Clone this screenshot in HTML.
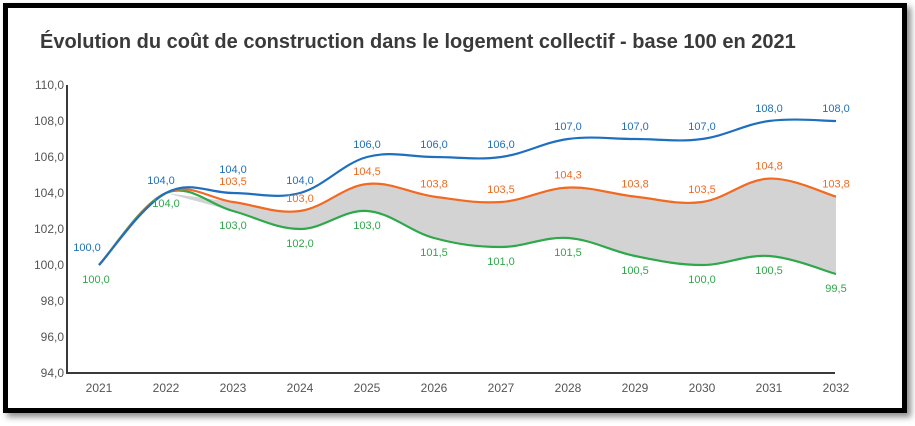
<!DOCTYPE html>
<html><head><meta charset="utf-8"><style>
body{margin:0;width:915px;height:426px;background:#fff;overflow:hidden;font-family:"Liberation Sans",sans-serif}
#frame{position:absolute;left:3px;top:3px;width:894px;height:400px;border:5px solid #000;box-shadow:4px 4px 6px rgba(0,0,0,.45);background:#fff}
</style></head><body>
<div id="frame"></div>
<svg id="c" width="915" height="426" style="position:absolute;left:0;top:0">
<text x="40" y="48" font-size="20" font-weight="bold" fill="#3a3a3a">Évolution du coût de construction dans le logement collectif - base 100 en 2021</text>
</svg>
<script>
const years=["2021","2022","2023","2024","2025","2026","2027","2028","2029","2030","2031","2032"];
const blue=[100,104,104,104,106,106,106,107,107,107,108,108];
const orange=[100,104,103.5,103,104.5,103.8,103.5,104.3,103.8,103.5,104.8,103.8];
const green=[100,104,103,102,103,101.5,101,101.5,100.5,100,100.5,99.5];
const yTicks=[94,96,98,100,102,104,106,108,110];
const NS="http://www.w3.org/2000/svg";
const svg=document.getElementById('c');
const X=i=>99+i*67;
const Y=v=>85+(110-v)*18;
const fmt=v=>v.toFixed(1).replace('.',',');
function mk(t,a,p){const e=document.createElementNS(NS,t);for(const k in a)e.setAttribute(k,a[k]);(p||svg).appendChild(e);return e;}
function seg(pts){let d="";for(let i=0;i<pts.length-1;i++){const p0=pts[i-1]||pts[i],p1=pts[i],p2=pts[i+1],p3=pts[i+2]||p2,t=0.18;
 d+=` C${p1[0]+(p2[0]-p0[0])*t},${p1[1]+(p2[1]-p0[1])*t} ${p2[0]-(p3[0]-p1[0])*t},${p2[1]-(p3[1]-p1[1])*t} ${p2[0]},${p2[1]}`;}return d;}
function pathD(vals,start){const pts=vals.map((v,i)=>[X(i),Y(v)]).slice(start||0);return "M"+pts[0][0]+","+pts[0][1]+seg(pts);}
let ax=mk('path',{d:`M67,85 V373 H835`,fill:'none',stroke:'#3a3a3a','stroke-width':2});

yTicks.forEach(v=>{const t=mk('text',{x:64,y:Y(v)+4,'text-anchor':'end','font-size':12,fill:'#555'});t.textContent=fmt(v);
});
years.forEach((y,i)=>{const t=mk('text',{x:X(i),y:392,'text-anchor':'middle','font-size':12,fill:'#555'});t.textContent=y;
});
const gp=green.map((v,i)=>[X(i),Y(v)]).slice(1).reverse();
let band=mk('path',{d:pathD(orange,1)+` L${gp[0][0]},${gp[0][1]}`+seg(gp)+'Z',fill:'#d3d3d4',stroke:'none'});

const series=[[green,'#2ea84a','green-line'],[orange,'#f26a21','orange-line'],[blue,'#1f6fbf','blue-line']];
series.forEach(([vals,col,name])=>{const p=mk('path',{d:pathD(vals),fill:'none',stroke:col,'stroke-width':2.2});
});
function lab(v,i,col,dy,dx){const t=mk('text',{x:X(i)+(dx||0),y:Y(v)+dy,'text-anchor':'middle','font-size':11,fill:col});t.textContent=fmt(v);
}
blue.forEach((v,i)=>{if(i==0)lab(v,i,'#1f6fbf',-14,-12);else if(i==1)lab(v,i,'#1f6fbf',-9,-5);else if(i==2)lab(v,i,'#1f6fbf',-20);else lab(v,i,'#1f6fbf',-9);});
orange.forEach((v,i)=>{if(i<2)return;lab(v,i,'#f26a21',i==2?-17:-9);});
green.forEach((v,i)=>{if(i==1){lab(v,i,'#2ea84a',14);return;}if(i==0){lab(v,i,'#2ea84a',18,-3);return;}lab(v,i,'#2ea84a',18);});
</script>
</body></html>
